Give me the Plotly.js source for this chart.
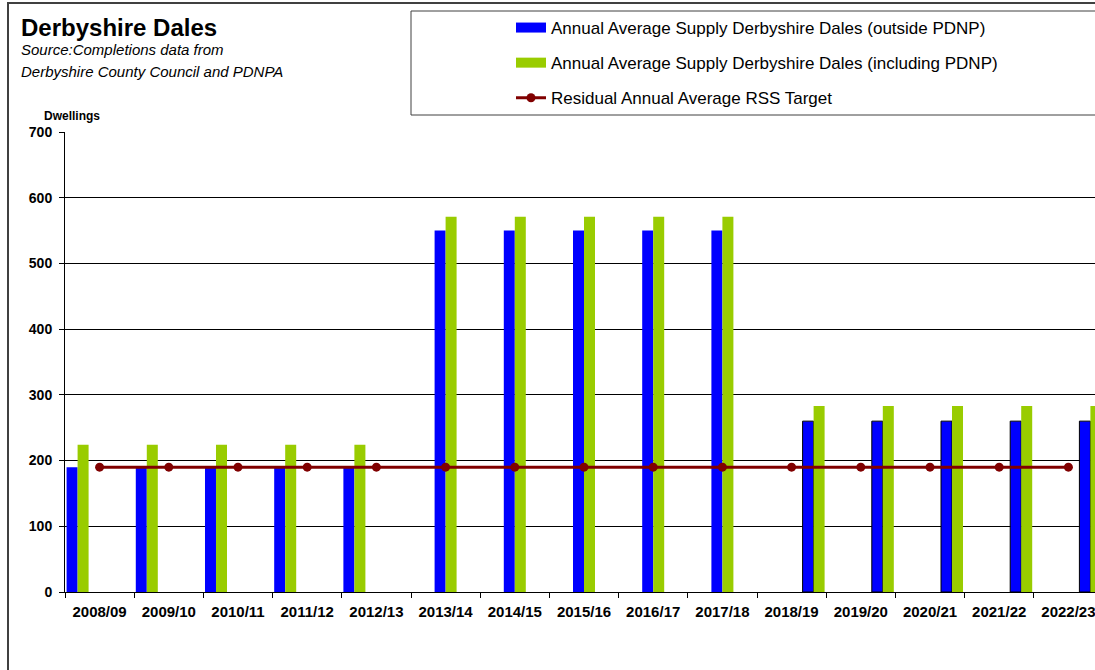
<!DOCTYPE html>
<html>
<head>
<meta charset="utf-8">
<script src="https://cdn.plot.ly/plotly-3.0.1.min.js"></script>
<style>
html, body { margin: 0; padding: 0; overflow: hidden; background: #ffffff; }
#chart { width: 1110px; height: 670px; }
</style>
</head>
<body>
<div id="chart"></div>
<script>
// ---- data ----
const categories = ['2008/09','2009/10','2010/11','2011/12','2012/13','2013/14','2014/15','2015/16','2016/17','2017/18','2018/19','2019/20','2020/21','2021/22','2022/23'];
const supplyOutside = [190,190,190,190,190,550,550,550,550,550,260,260,260,260,260];
const supplyIncluding = [224,224,224,224,224,571,571,571,571,571,283,283,283,283,283];
const rssTarget = [190,190,190,190,190,190,190,190,190,190,190,190,190,190,190];
const period = [0,0,0,0,0,1,1,1,1,1,2,2,2,2,2];
const seriesNames = ['Annual Average Supply Derbyshire Dales (outside PDNP)','Annual Average Supply Derbyshire Dales (including PDNP)','Residual Annual Average RSS Target'];

// ---- layout geometry ----
const W = 1110, H = 670;
const M = {l: 65, r: 7, t: 132, b: 78};
const pw = W - M.l - M.r, ph = H - M.t - M.b;
const px2x = px => (px - M.l) / pw;
const py2y = py => (H - M.b - py) / ph;

const FONT = 'Liberation Sans, Arial, sans-serif';
const BLUE = '#0000FF', GREEN = '#99CC00', RED = '#800000';

const traces = [];
for (let p = 0; p < 3; p++) {
  traces.push({
    type: 'bar', x: categories,
    y: supplyOutside.map((v, i) => period[i] === p ? v : null),
    name: seriesNames[0], legendgroup: 'g1', showlegend: false,
    marker: {color: BLUE, line: {color: '#000000', width: p === 2 ? 1 : 0}},
    hoverinfo: 'skip'
  });
  traces.push({
    type: 'bar', x: categories,
    y: supplyIncluding.map((v, i) => period[i] === p ? v : null),
    name: seriesNames[1], legendgroup: 'g2', showlegend: false,
    marker: {color: GREEN, line: {width: 0}},
    hoverinfo: 'skip'
  });
}
// legend-only entries (wide swatches like the original legend keys)
traces.push({type: 'scatter', mode: 'lines', x: [null], y: [null], name: seriesNames[0],
  legendgroup: 'g1', line: {color: BLUE, width: 10}, hoverinfo: 'skip'});
traces.push({type: 'scatter', mode: 'lines', x: [null], y: [null], name: seriesNames[1],
  legendgroup: 'g2', line: {color: GREEN, width: 10}, hoverinfo: 'skip'});
traces.push({
  type: 'scatter', mode: 'lines+markers', x: categories, y: rssTarget,
  name: seriesNames[2], legendgroup: 'g3',
  line: {color: RED, width: 3}, marker: {color: RED, size: 9},
  hoverinfo: 'skip'
});

const layout = {
  width: W, height: H,
  margin: M,
  paper_bgcolor: '#ffffff', plot_bgcolor: '#ffffff',
  font: {family: FONT, color: '#000000'},
  barmode: 'group', bargap: 0.046, bargroupgap: 0,
  showlegend: true,
  title: {
    text: '<b>Derbyshire Dales</b>', xref: 'container', yref: 'container',
    x: 21 / W, xanchor: 'left', y: 1 - 28 / H, yanchor: 'middle',
    font: {family: FONT, size: 24, color: '#000000'}
  },
  legend: {
    x: px2x(511), y: py2y(10), xanchor: 'left', yanchor: 'top',
    bgcolor: 'rgba(0,0,0,0)', borderwidth: 0,
    traceorder: 'grouped', tracegroupgap: 10,
    font: {family: FONT, size: 17, color: '#000000'}
  },
  xaxis: {
    type: 'category', range: [-0.5, 14.5],
    tickson: 'boundaries', ticks: 'outside', ticklen: 5, tickcolor: '#000000',
    showline: true, linecolor: '#000000', linewidth: 1,
    showgrid: false, zeroline: false, ticklabelstandoff: 6,
    tickfont: {family: FONT, size: 15, color: '#000000', weight: 'bold'}
  },
  yaxis: {
    range: [0, 700], dtick: 100, tick0: 0,
    ticks: 'outside', ticklen: 5, tickcolor: '#000000',
    showline: true, linecolor: '#000000', linewidth: 1,
    showgrid: true, gridcolor: '#000000', gridwidth: 1, zeroline: false,
    ticklabelstandoff: 4,
    tickfont: {family: FONT, size: 14, color: '#000000', weight: 'bold'}
  },
  annotations: [
    {text: '<i>Source:Completions data from</i>', xref: 'paper', yref: 'paper',
     x: px2x(19), y: py2y(50), xanchor: 'left', yanchor: 'middle', showarrow: false,
     font: {family: FONT, size: 15, color: '#000000'}},
    {text: '<i>Derbyshire County Council and PDNPA</i>', xref: 'paper', yref: 'paper',
     x: px2x(19), y: py2y(71), xanchor: 'left', yanchor: 'middle', showarrow: false,
     font: {family: FONT, size: 15, color: '#000000'}},
    {text: '<b>Dwellings</b>', xref: 'paper', yref: 'paper',
     x: px2x(72), y: py2y(116), xanchor: 'center', yanchor: 'middle', showarrow: false,
     font: {family: FONT, size: 12, color: '#000000'}}
  ],
  shapes: [
    {type: 'rect', xref: 'paper', yref: 'paper', layer: 'below',
     x0: px2x(8), x1: px2x(1400), y0: py2y(3), y1: py2y(900),
     line: {color: '#404040', width: 2}, fillcolor: 'rgba(0,0,0,0)'},
    {type: 'rect', xref: 'paper', yref: 'paper', layer: 'below',
     x0: px2x(411), x1: px2x(1300), y0: py2y(11), y1: py2y(115),
     line: {color: '#404040', width: 1}, fillcolor: 'rgba(0,0,0,0)'}
  ]
};

Plotly.newPlot('chart', traces, layout, {displayModeBar: false, staticPlot: true});
</script>
</body>
</html>
